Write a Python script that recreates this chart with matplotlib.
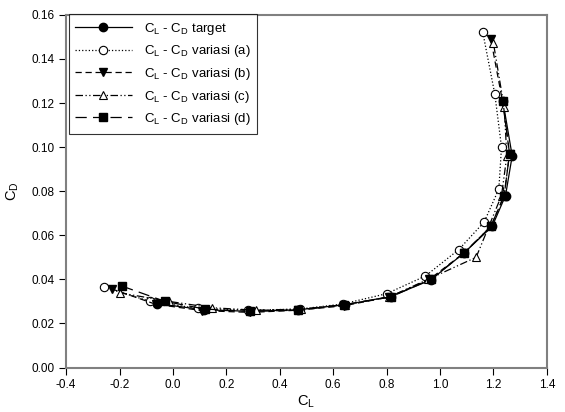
import matplotlib
matplotlib.use("Agg")
import matplotlib.pyplot as plt

plt.rcParams['font.family'] = ['Liberation Sans', 'DejaVu Sans']
plt.rcParams['mathtext.fontset'] = 'custom'
plt.rcParams['mathtext.rm'] = 'Liberation Sans'

target_x = [-0.06, 0.115, 0.285, 0.47, 0.645, 0.815, 0.965, 1.09, 1.195, 1.245, 1.27, 1.235]
target_y = [0.0290, 0.0262, 0.0255, 0.0262, 0.0285, 0.0322, 0.0397, 0.052, 0.064, 0.078, 0.096, 0.121]

a_x = [-0.26, -0.085, 0.095, 0.28, 0.475, 0.635, 0.80, 0.945, 1.07, 1.165, 1.22, 1.23, 1.205, 1.16]
a_y = [0.0365, 0.030, 0.0268, 0.026, 0.0265, 0.0288, 0.0335, 0.0415, 0.0535, 0.066, 0.081, 0.100, 0.124, 0.152]

b_x = [-0.23, -0.065, 0.11, 0.29, 0.47, 0.64, 0.81, 0.96, 1.09, 1.19, 1.24, 1.26, 1.235, 1.19]
b_y = [0.0357, 0.0287, 0.0258, 0.025, 0.026, 0.028, 0.032, 0.040, 0.052, 0.064, 0.078, 0.097, 0.120, 0.149]

c_x = [-0.20, -0.015, 0.148, 0.31, 0.48, 0.645, 0.81, 0.955, 1.135, 1.23, 1.25, 1.24, 1.20]
c_y = [0.0339, 0.030, 0.0271, 0.026, 0.0265, 0.0285, 0.032, 0.040, 0.050, 0.078, 0.096, 0.118, 0.147]

d_x = [-0.19, -0.03, 0.12, 0.29, 0.47, 0.64, 0.815, 0.965, 1.09, 1.19, 1.24, 1.26, 1.235]
d_y = [0.0369, 0.030, 0.0265, 0.0255, 0.026, 0.0285, 0.032, 0.040, 0.052, 0.064, 0.078, 0.097, 0.121]

labels = [r'C$_\mathregular{L}$ - C$_\mathregular{D}$ target',
          r'C$_\mathregular{L}$ - C$_\mathregular{D}$ variasi (a)',
          r'C$_\mathregular{L}$ - C$_\mathregular{D}$ variasi (b)',
          r'C$_\mathregular{L}$ - C$_\mathregular{D}$ variasi (c)',
          r'C$_\mathregular{L}$ - C$_\mathregular{D}$ variasi (d)']

fig = plt.figure(figsize=(5.65, 4.12), dpi=100)
ax = fig.add_axes([0.117, 0.108, 0.851, 0.856])

ms = 6
ax.plot(target_x, target_y, '-', color='black', lw=0.9, marker='o', ms=ms,
        mfc='black', mec='black', label=labels[0])
ax.plot(a_x, a_y, ':', color='black', lw=0.9, marker='o', ms=ms,
        mfc='white', mec='black', mew=0.8, label=labels[1])
ax.plot(b_x, b_y, color='black', lw=0.9, ls=(0, (5, 3)), marker='v', ms=ms,
        mfc='black', mec='black', label=labels[2])
ax.plot(c_x, c_y, color='black', lw=0.9, ls=(0, (6, 2, 1, 2, 1, 2)), marker='^', ms=ms,
        mfc='white', mec='black', mew=0.8, label=labels[3])
ax.plot(d_x, d_y, color='black', lw=0.9, ls=(0, (9, 5)), marker='s', ms=ms - 0.5,
        mfc='black', mec='black', label=labels[4])

ax.set_xlim(-0.4, 1.4)
ax.set_ylim(0.0, 0.16)
ax.set_xticks([-0.4, -0.2, 0.0, 0.2, 0.4, 0.6, 0.8, 1.0, 1.2, 1.4])
ax.set_xticklabels(['-0.4', '-0.2', '0.0', '0.2', '0.4', '0.6', '0.8', '1.0', '1.2', '1.4'])
ax.set_yticks([0.0, 0.02, 0.04, 0.06, 0.08, 0.10, 0.12, 0.14, 0.16])
ax.set_yticklabels(['0.00', '0.02', '0.04', '0.06', '0.08', '0.10', '0.12', '0.14', '0.16'])
ax.tick_params(direction='out', length=5, width=0.8, labelsize=8.5, colors='black', pad=3)
ax.tick_params(top=False, right=False)

for s in ax.spines.values():
    s.set_color('#808080')
    s.set_linewidth(1.5)

ax.set_xlabel(r'C$_\mathregular{L}$', fontsize=10.5, labelpad=2)
ax.set_ylabel(r'C$_\mathregular{D}$', fontsize=10.5, labelpad=8)

leg = ax.legend(loc='upper left', bbox_to_anchor=(0.005, 1.002), fontsize=9.5,
                handlelength=4.3, frameon=True, fancybox=False, borderpad=0.5,
                labelspacing=0.5, handletextpad=0.9, borderaxespad=0.0)
leg.get_frame().set_edgecolor('black')
leg.get_frame().set_linewidth(0.8)

fig.savefig('out.png', dpi=100)
